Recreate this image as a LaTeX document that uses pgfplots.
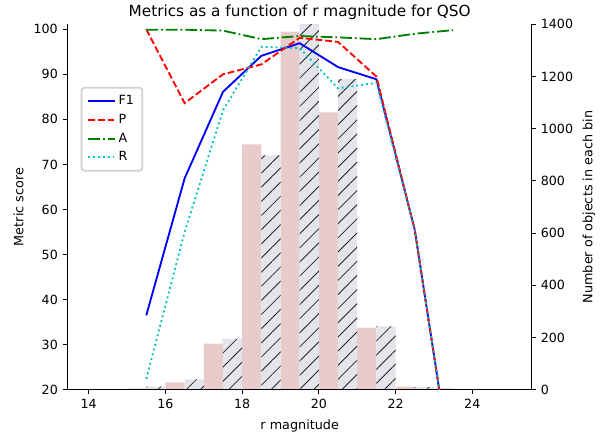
\documentclass[border=0pt]{standalone}
\usepackage{pgfplots}
\pgfplotsset{compat=1.18}
\usepackage{fontspec}
\setmainfont{DejaVu Sans}
\usetikzlibrary{patterns.meta}
\definecolor{barpink}{RGB}{232,204,204}
\definecolor{bargray}{RGB}{228,229,234}
\definecolor{mplgreen}{rgb}{0,0.5,0}
\definecolor{mplcyan}{rgb}{0,0.75,0.75}
\begin{document}
\begin{tikzpicture}
\useasboundingbox (-48.7pt,-32.2pt) rectangle (388.2pt,280.5pt);
\pgfplotsset{
  every axis/.append style={
    scale only axis, width=334pt, height=263pt,
    xmin=13.45, xmax=25.55,
    tick align=outside, major tick length=3.1pt,
    tick style={black, line width=0.6pt},
    tick label style={font=\fontsize{9.1}{10}\selectfont},
    label style={font=\fontsize{9.2}{10}\selectfont},
    /pgf/number format/assume math mode=true,
    axis line style={line width=0.6pt},
  }
}
% right axis with bars
\begin{axis}[
  axis x line=none,
  axis y line*=right,
  ymin=0, ymax=1400,
  ytick={0,200,400,600,800,1000,1200,1400},
  ylabel={Number of objects in each bin},
  clip=true,
  ybar, bar width=0.5, bar shift=0pt,
  /pgf/number format/1000 sep={},
]
\addplot[fill=barpink, draw=none] coordinates {
 (14.25,0) (15.25,5) (16.25,28) (17.25,177) (18.25,940) (19.25,1372)
 (20.25,1063) (21.25,238) (22.25,12) (23.25,5) (24.25,0)};
\addplot[fill=bargray, draw=none] coordinates {
 (14.75,2) (15.75,12) (16.75,40) (17.75,195) (18.75,898) (19.75,1450)
 (20.75,1190) (21.75,243) (22.75,10) (23.75,0) (24.75,0)};
\addplot[draw=none, pattern={Lines[angle=45,distance=7.2pt,line width=0.6pt]}, pattern color=black!85] coordinates {
 (14.75,2) (15.75,12) (16.75,40) (17.75,195) (18.75,898) (19.75,1450)
 (20.75,1190) (21.75,243) (22.75,10) (23.75,0) (24.75,0)};
\end{axis}
% left axis with lines
\begin{axis}[
  axis y line*=left,
  axis x line*=bottom,
  ymin=20, ymax=101.1,
  ytick={20,30,40,50,60,70,80,90,100},
  xtick={14,16,18,20,22,24},
  xlabel={r magnitude},
  ylabel={Metric score},
  title={Metrics as a function of r magnitude for QSO},
  title style={font=\fontsize{11}{12}\selectfont, yshift=-6.5pt},
  legend style={at={(0.028,0.829)}, anchor=north west, draw=black!18,
    rounded corners=2pt, font=\fontsize{9.1}{10}\selectfont,
    row sep=1.4pt, inner xsep=4pt, inner ysep=3.5pt},
  legend cell align=left,
  legend image code/.code={\draw[#1] (0cm,0cm) -- (0.68cm,0cm);},
  line width=1.33pt,
]
\addplot[blue, solid, line width=1.33pt] coordinates {
 (15.5,36.5) (16.5,66.9) (17.5,86.1) (18.5,94.1) (19.5,96.9) (20.5,91.6)
 (21.5,88.9) (22.5,55.5) (23.5,0)};
\addlegendentry{F1}
\addplot[red, line width=1.33pt, dash pattern=on 4.9pt off 2.1pt] coordinates {
 (15.5,100) (16.5,83.6) (17.5,90.0) (18.5,92.2) (19.5,98.1) (20.5,97.2)
 (21.5,89.5) (22.5,55.5) (23.5,0)};
\addlegendentry{P}
\addplot[mplgreen, line width=1.33pt, dash pattern=on 8.5pt off 2.1pt on 1.33pt off 2.1pt] coordinates {
 (15.5,99.9) (16.5,99.9) (17.5,99.7) (18.5,97.8) (19.5,98.5) (20.5,98.2)
 (21.5,97.8) (22.5,99.0) (23.5,99.8)};
\addlegendentry{A}
\addplot[mplcyan, line width=1.33pt, dash pattern=on 1.33pt off 2.2pt] coordinates {
 (15.5,22.4) (16.5,55.0) (17.5,82.0) (18.5,96.1) (19.5,95.8) (20.5,86.9)
 (21.5,88.1) (22.5,55.5) (23.5,0)};
\addlegendentry{R}
\end{axis}
\end{tikzpicture}
\end{document}
